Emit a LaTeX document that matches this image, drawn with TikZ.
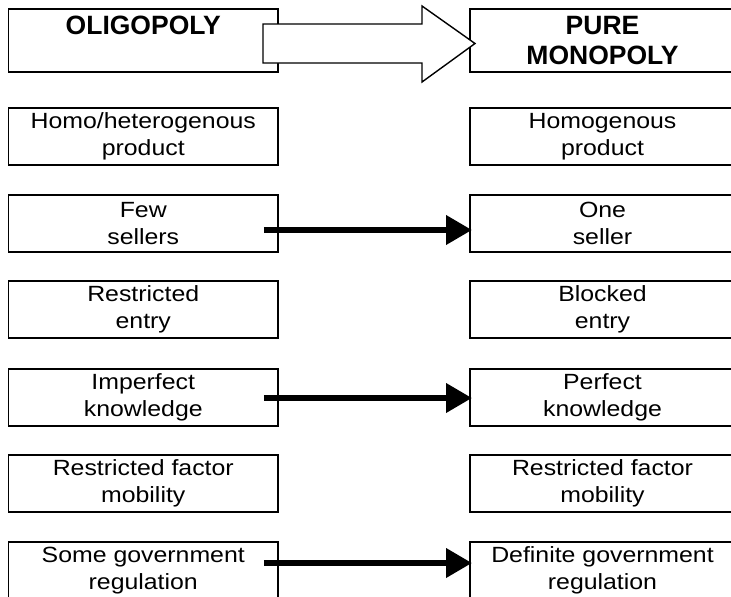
\documentclass[tikz,border=0pt]{standalone}
\usepackage{fontspec}
\usetikzlibrary{arrows.meta}
\newfontfamily\cellfont{Liberation Sans}[FakeStretch=1.13]
\newfontfamily\headfont{Liberation Sans}

\begin{document}
\begin{tikzpicture}[x=1pt,y=-1pt]
	\tikzstyle{cell}=[draw,line width=1.8pt,minimum height=57pt,inner sep=0pt,align=center,font=\cellfont\fontsize{22}{26.7}\selectfont]
	\tikzstyle{lcell}=[cell,minimum width=269.5pt]
	\tikzstyle{rcell}=[cell,minimum width=265pt]
	\tikzstyle{head}=[minimum height=63pt,font=\headfont\bfseries\fontsize{26.5}{30.7}\selectfont]
	\tikzstyle{link}=[line width=6.5pt,-{Triangle[length=26pt,width=28pt]}]

	\useasboundingbox (0,0) rectangle (731,597);

	\node[lcell,head](oligo) at (143.25,40.5) {OLIGOPOLY\\\phantom{M}};
	\node[rcell,head](mono) at (602.5,40.5) {PURE\\MONOPOLY};

	\node[lcell](homoL) at (143.25,136.5) {Homo/heterogenous\\product};
	\node[lcell](fewL) at (143.25,223.5) {Few\\sellers};
	\node[lcell](entryL) at (143.25,309.5) {Restricted\\entry};
	\node[lcell](knowL) at (143.25,397.5) {Imperfect\\knowledge};
	\node[lcell](mobilL) at (143.25,483.5) {Restricted factor\\mobility};
	\node[lcell](govL) at (143.25,570.5) {Some government\\regulation};

	\node[rcell](homoR) at (602.5,136.5) {Homogenous\\product};
	\node[rcell](oneR) at (602.5,223.5) {One\\seller};
	\node[rcell](entryR) at (602.5,309.5) {Blocked\\entry};
	\node[rcell](knowR) at (602.5,397.5) {Perfect\\knowledge};
	\node[rcell](mobilR) at (602.5,483.5) {Restricted factor\\mobility};
	\node[rcell](govR) at (602.5,570.5) {Definite government\\regulation};

	% hollow arrow between the headings
	\draw[line width=1.4pt,fill=white] (263,24) -- (422,24) -- (422,6) -- (475,43.5) -- (422,82) -- (422,63) -- (263,63) -- cycle;

	\draw[link] ([xshift=-15pt,yshift=-6.5pt]fewL.east) -- ([xshift=3pt,yshift=-6.5pt]oneR.west);
	\draw[link] ([xshift=-15pt,yshift=-0.5pt]knowL.east) -- ([xshift=3pt,yshift=-0.5pt]knowR.west);
	\draw[link] ([xshift=-15pt,yshift=7.5pt]govL.east) -- ([xshift=3pt,yshift=7.5pt]govR.west);

\end{tikzpicture}
\end{document}
